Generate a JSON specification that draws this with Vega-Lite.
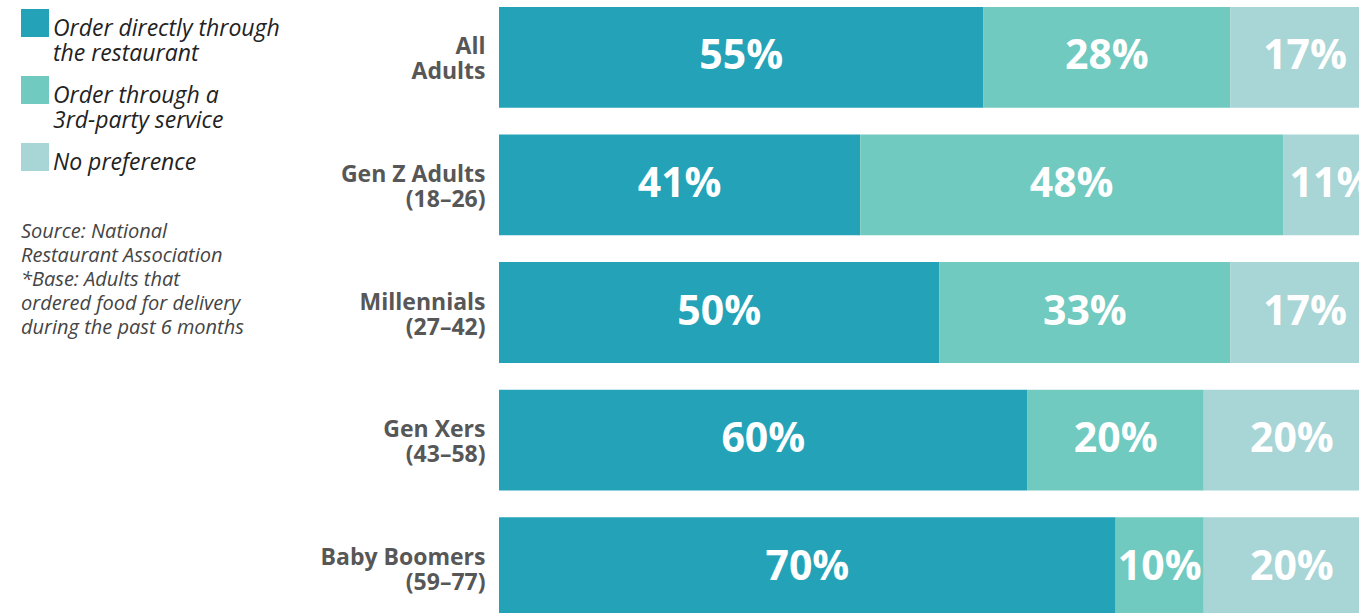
{
  "$schema": "https://vega.github.io/schema/vega-lite/v6.json",
  "autosize": "none",
  "padding": {"left": 499, "top": 7, "right": 0, "bottom": 0},
  "width": 860,
  "height": 611,
  "background": "white",
  "config": {"view": {"stroke": null}, "font": "Open Sans"},
  "title": {
    "text": ["Source: National", "Restaurant Association", "*Base: Adults that", "ordered food for delivery", "during the past 6 months"],
    "orient": "top",
    "anchor": "start",
    "frame": "group",
    "align": "left",
    "baseline": "top",
    "offset": 0,
    "dx": -478,
    "dy": 331,
    "font": "Open Sans",
    "fontSize": 20,
    "fontStyle": "italic",
    "fontWeight": "normal",
    "color": "#444444",
    "lineHeight": 24
  },
  "data": {
    "values": [
      {"group": "All Adults", "preference": "Order directly through the restaurant", "rank": 1, "share": 0.55},
      {"group": "All Adults", "preference": "Order through a 3rd-party service", "rank": 2, "share": 0.28},
      {"group": "All Adults", "preference": "No preference", "rank": 3, "share": 0.17},
      {"group": "Gen Z Adults (18–26)", "preference": "Order directly through the restaurant", "rank": 1, "share": 0.41},
      {"group": "Gen Z Adults (18–26)", "preference": "Order through a 3rd-party service", "rank": 2, "share": 0.48},
      {"group": "Gen Z Adults (18–26)", "preference": "No preference", "rank": 3, "share": 0.11},
      {"group": "Millennials (27–42)", "preference": "Order directly through the restaurant", "rank": 1, "share": 0.50},
      {"group": "Millennials (27–42)", "preference": "Order through a 3rd-party service", "rank": 2, "share": 0.33},
      {"group": "Millennials (27–42)", "preference": "No preference", "rank": 3, "share": 0.17},
      {"group": "Gen Xers (43–58)", "preference": "Order directly through the restaurant", "rank": 1, "share": 0.60},
      {"group": "Gen Xers (43–58)", "preference": "Order through a 3rd-party service", "rank": 2, "share": 0.20},
      {"group": "Gen Xers (43–58)", "preference": "No preference", "rank": 3, "share": 0.20},
      {"group": "Baby Boomers (59–77)", "preference": "Order directly through the restaurant", "rank": 1, "share": 0.70},
      {"group": "Baby Boomers (59–77)", "preference": "Order through a 3rd-party service", "rank": 2, "share": 0.10},
      {"group": "Baby Boomers (59–77)", "preference": "No preference", "rank": 3, "share": 0.20}
    ]
  },
  "encoding": {
    "y": {
      "field": "group",
      "type": "nominal",
      "sort": null,
      "scale": {"paddingInner": 0.21, "paddingOuter": 0},
      "axis": {
        "title": null,
        "domain": false,
        "ticks": false,
        "labelPadding": 14,
        "labelFont": "Open Sans",
        "labelFontSize": 23,
        "labelFontWeight": "bold",
        "labelColor": "#575757",
        "labelAlign": "right",
        "labelBaseline": "middle",
        "labelLineHeight": 25,
        "labelOffset": -10,
        "labelLimit": 400,
        "labelExpr": "indexof(datum.label, '(') > 0 ? [slice(datum.label, 0, indexof(datum.label, '(') - 1), slice(datum.label, indexof(datum.label, '('))] : split(datum.label, ' ')"
      }
    }
  },
  "layer": [
    {
      "mark": {"type": "bar", "clip": true},
      "encoding": {
        "x": {"field": "share", "type": "quantitative", "stack": "zero", "scale": {"domain": [0, 0.9762], "nice": false}, "axis": null},
        "order": {"field": "rank"},
        "color": {
          "field": "preference",
          "type": "nominal",
          "sort": null,
          "scale": {
            "domain": ["Order directly through the restaurant", "Order through a 3rd-party service", "No preference"],
            "range": ["#24a3b8", "#70cabf", "#a8d5d6"]
          },
          "legend": {
            "title": null,
            "orient": "none",
            "legendX": -478,
            "legendY": 2,
            "symbolType": "square",
            "symbolSize": 784,
            "symbolStrokeWidth": 0,
            "symbolOpacity": 1,
            "labelFont": "Open Sans",
            "labelFontSize": 23,
            "labelFontStyle": "italic",
            "labelColor": "#222222",
            "labelLimit": 400,
            "labelOffset": 4,
            "rowPadding": 10,
            "labelBaseline": "middle",
            "labelExpr": "datum.label == 'Order directly through the restaurant' ? ['Order directly through', 'the restaurant'] : datum.label == 'Order through a 3rd-party service' ? [' Order through a', '3rd-party service'] : datum.label",
            "encode": {"labels": {"update": {"dy": {"value": 6}}}}
          }
        }
      }
    },
    {
      "mark": {"type": "text", "clip": true, "color": "white", "fontSize": 41, "fontWeight": "bold", "font": "Open Sans", "baseline": "middle", "align": "center"},
      "encoding": {
        "x": {"field": "share", "type": "quantitative", "stack": "zero", "bandPosition": 0.5},
        "order": {"field": "rank"},
        "detail": {"field": "preference"},
        "text": {"field": "share", "type": "quantitative", "format": ".0%"}
      }
    }
  ]
}
